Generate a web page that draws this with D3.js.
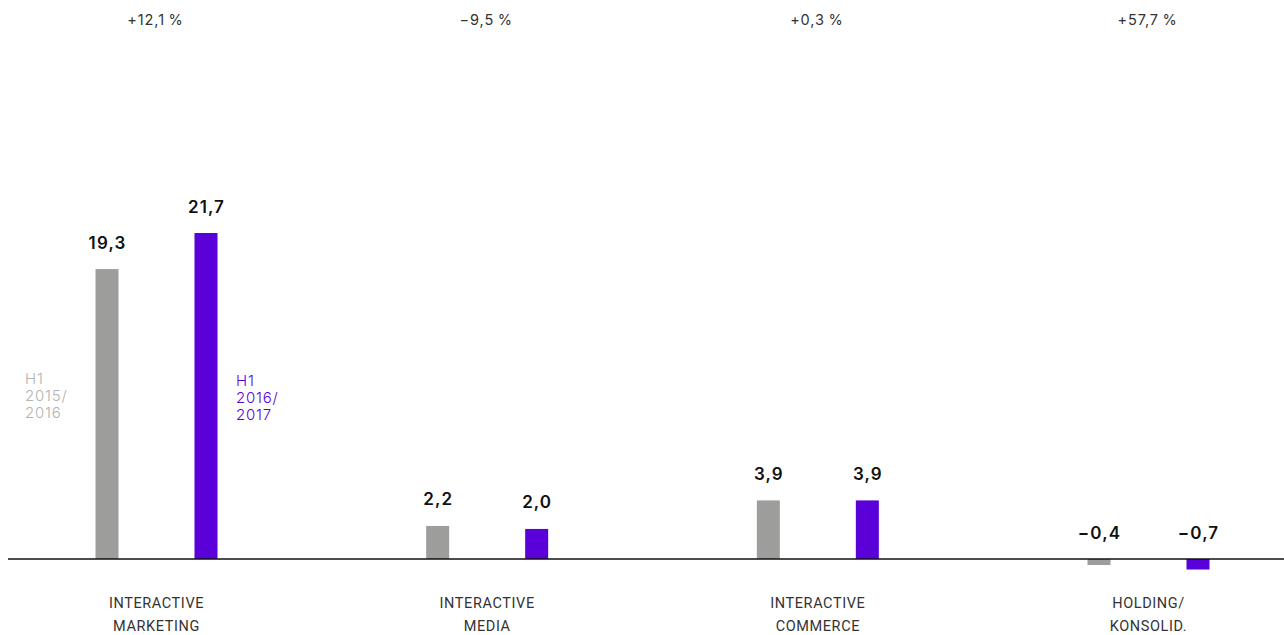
<!DOCTYPE html>
<html><head><meta charset="utf-8">
<script src="https://cdn.jsdelivr.net/npm/d3@7"></script>
<style>html,body{margin:0;padding:0;background:#fff;}svg{display:block;}</style>
</head><body>
<svg id="chart" width="1284" height="635"></svg>
<script>
const categories = [["INTERACTIVE","MARKETING"],["INTERACTIVE","MEDIA"],["INTERACTIVE","COMMERCE"],["HOLDING/","KONSOLID."]];
const catKeys = ["im","imedia","ic","hk"];
const seriesNames = ["H1 2015/2016","H1 2016/2017"];
const seriesLegend = [["H1","2015/","2016"],["H1","2016/","2017"]];
const values2015 = [19.3, 2.2, 3.9, -0.4];
const values2016 = [21.7, 2.0, 3.9, -0.7];
const changes = ["+12,1\u2009%","\u22129,5\u2009%","+0,3\u2009%","+57,7\u2009%"];
const colors = ["#9d9d9c","#5a00d9"];

const svg = d3.select("#chart");
const x = d3.scalePoint().domain(catKeys).range([156.5, 1148.5]);
const xs = d3.scalePoint().domain(seriesNames).range([-49.5, 49.5]);
const y = d3.scaleLinear().domain([0, 21.7]).range([559, 233]);
const barW = 23;
const fmt = v => (v < 0 ? "\u2212" : "") + Math.abs(v).toFixed(1).replace(".", ",");

const data = [];
catKeys.forEach((k, i) => {
  data.push({k, s: seriesNames[0], v: values2015[i], c: colors[0]});
  data.push({k, s: seriesNames[1], v: values2016[i], c: colors[1]});
});

svg.selectAll("rect.bar").data(data).join("rect")
  .attr("class","bar")
  .attr("x", d => x(d.k) + xs(d.s) - barW/2)
  .attr("width", barW)
  .attr("y", d => y(Math.max(0, d.v)))
  .attr("height", d => Math.abs(y(d.v) - y(0)))
  .attr("fill", d => d.c);

svg.selectAll("text.val").data(data).join("text")
  .attr("class","val")
  .attr("x", d => x(d.k) + xs(d.s) + 0.5)
  .attr("y", d => y(Math.max(0, d.v)) - 20.5)
  .attr("text-anchor","middle")
  .attr("font-family","Inter, 'Noto Sans', sans-serif")
  .attr("font-weight", 600)
  .attr("font-size", 17)
  .attr("letter-spacing", 1.1)
  .attr("fill","#111")
  .text(d => fmt(d.v));

// axis line
svg.append("line").attr("x1", 8).attr("x2", 1284).attr("y1", y(0)).attr("y2", y(0))
  .attr("stroke","#111").attr("stroke-width",1.5);

// change labels
svg.selectAll("text.chg").data(catKeys).join("text")
  .attr("class","chg")
  .attr("x", d => x(d) - 1)
  .attr("y", 25)
  .attr("text-anchor","middle")
  .attr("font-family","Inter, 'Noto Sans', sans-serif")
  .attr("font-size", 14.5)
  .attr("letter-spacing", 0.9)
  .attr("fill","#333")
  .text((d,i) => changes[i]);

// category labels
catKeys.forEach((d, i) => {
  categories[i].forEach((line, j) => {
    svg.append("text")
      .attr("x", x(d))
      .attr("y", 608 + j * 23)
      .attr("text-anchor","middle")
      .attr("font-family","Roboto, sans-serif")
      .attr("font-size", 14.5)
      .attr("letter-spacing", 0.6)
      .attr("fill","#333")
      .text(line);
  });
});

// series legend labels
const legPos = [{x: 25, y: 384}, {x: 236, y: 386}];
seriesLegend.forEach((lines, i) => {
  lines.forEach((l, j) => svg.append("text")
    .attr("x", legPos[i].x).attr("y", legPos[i].y + j * 17)
    .attr("font-family","Inter, 'Noto Sans', sans-serif")
    .attr("font-size", 15)
    .attr("font-weight", 300)
    .attr("letter-spacing", 0.8)
    .attr("fill", i === 0 ? "#b2b2b2" : colors[1])
    .text(l));
});
</script>
</body></html>
